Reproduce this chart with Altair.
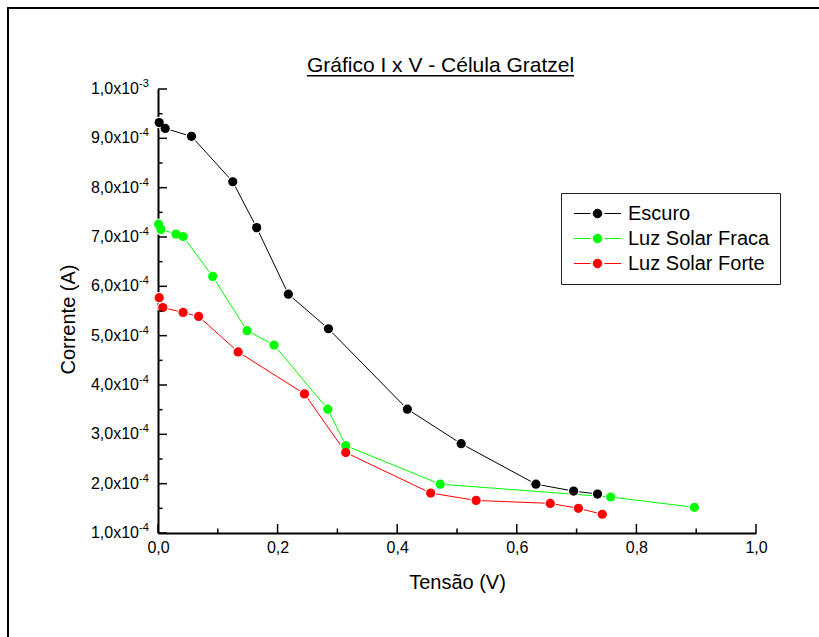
import altair as alt
import pandas as pd

FONT = "Arial, 'Liberation Sans', sans-serif"

series_names = ["Escuro", "Luz Solar Fraca", "Luz Solar Forte"]
series_colors = ["#000000", "#00ff00", "#ff0000"]

v_escuro = [0.002, 0.012, 0.056, 0.125, 0.165, 0.218, 0.285, 0.417, 0.507, 0.632, 0.695, 0.735]
i_escuro = [9.32e-4, 9.20e-4, 9.04e-4, 8.12e-4, 7.19e-4, 5.84e-4, 5.14e-4, 3.51e-4, 2.81e-4, 1.99e-4, 1.85e-4, 1.79e-4]

v_fraca = [0.001, 0.005, 0.030, 0.042, 0.0915, 0.149, 0.194, 0.284, 0.314, 0.472, 0.757, 0.897]
i_fraca = [7.26e-4, 7.15e-4, 7.06e-4, 7.01e-4, 6.20e-4, 5.10e-4, 4.81e-4, 3.51e-4, 2.77e-4, 1.99e-4, 1.73e-4, 1.52e-4]

v_forte = [0.002, 0.008, 0.042, 0.068, 0.134, 0.245, 0.314, 0.456, 0.532, 0.656, 0.703, 0.743]
i_forte = [5.77e-4, 5.57e-4, 5.47e-4, 5.39e-4, 4.67e-4, 3.82e-4, 2.63e-4, 1.81e-4, 1.66e-4, 1.60e-4, 1.50e-4, 1.38e-4]

x_major = [0.0, 0.2, 0.4, 0.6, 0.8, 1.0]
x_minor = [0.1, 0.3, 0.5, 0.7, 0.9]
y_major = [1e-4, 2e-4, 3e-4, 4e-4, 5e-4, 6e-4, 7e-4, 8e-4, 9e-4, 1e-3]
y_minor = [1.5e-4, 2.5e-4, 3.5e-4, 4.5e-4, 5.5e-4, 6.5e-4, 7.5e-4, 8.5e-4, 9.5e-4]
y_mantissa = ["1,0x10", "2,0x10", "3,0x10", "4,0x10", "5,0x10", "6,0x10", "7,0x10", "8,0x10", "9,0x10", "1,0x10"]
y_exponent = ["-4", "-4", "-4", "-4", "-4", "-4", "-4", "-4", "-4", "-3"]

title_text = "Gráfico I x V - Célula Gratzel"

rows = []
for name, vs, cs in [(series_names[0], v_escuro, i_escuro),
                     (series_names[1], v_fraca, i_fraca),
                     (series_names[2], v_forte, i_forte)]:
    for k, (v, c) in enumerate(zip(vs, cs)):
        rows.append({"serie": name, "V": v, "I": c, "idx": k})
df = pd.DataFrame(rows)

W, H = 598, 444
xscale = alt.Scale(domain=[0, 1], nice=False, zero=False)
yscale = alt.Scale(domain=[1e-4, 1e-3], nice=False, zero=False)

legend_path = "M-2.35,0L-0.7,0M0.7,0L2.35,0M-0.43,0A0.43,0.43,0,1,1,0.43,0A0.43,0.43,0,1,1,-0.43,0Z"

legend = alt.Legend(
    title=None, orient="none", legendX=403, legendY=104,
    strokeColor="#222222", padding=10,
    symbolType=legend_path, symbolSize=400, symbolStrokeWidth=1,
    symbolOffset=16, labelOffset=20, symbolOpacity=1,
    labelFont=FONT, labelFontSize=20, labelColor="black",
    rowPadding=4,
)
cscale = alt.Scale(domain=series_names, range=series_colors)

x_enc = alt.X(
    "V:Q", scale=xscale,
    axis=alt.Axis(
        values=x_major, labelExpr="replace(format(datum.value, '.1f'), '.', ',')",
        ticks=False, grid=False, domainColor="black", domainWidth=2,
        labelFont=FONT, labelFontSize=16, labelColor="black", labelPadding=6,
        labelFlush=False, labelOverlap=False,
        title="Tensão (V)", titleFont=FONT, titleFontSize=20, titleFontWeight="normal",
        titleColor="black", titleX=W / 2, titleY=49, titleBaseline="middle", titleAlign="center",
    ),
)
y_enc = alt.Y(
    "I:Q", scale=yscale,
    axis=alt.Axis(
        labels=False, ticks=False, grid=False, domainColor="black", domainWidth=2,
        title="Corrente (A)", titleFont=FONT, titleFontSize=20, titleFontWeight="normal",
        titleColor="black", titleX=-90, titleY=230, titleAngle=270,
        titleBaseline="middle", titleAlign="center",
    ),
)

base = alt.Chart(df)
lines = base.mark_line(strokeWidth=1).encode(
    x=x_enc, y=y_enc,
    stroke=alt.Stroke("serie:N", scale=cscale, sort=series_names, legend=legend),
    order="idx:Q")
halos = base.mark_point(filled=True, size=130, opacity=1, color="white").encode(
    x=alt.X("V:Q", scale=xscale), y=alt.Y("I:Q", scale=yscale))
points = base.mark_point(filled=True, size=85, opacity=1).encode(
    x=alt.X("V:Q", scale=xscale), y=alt.Y("I:Q", scale=yscale),
    fill=alt.Fill("serie:N", scale=cscale, sort=series_names, legend=legend))

# ticks drawn inward
xmaj = alt.Chart(pd.DataFrame({"v": x_major})).mark_rule(color="black", strokeWidth=1.5).encode(
    x=alt.X("v:Q", scale=xscale), y=alt.value(H), y2=alt.value(H - 9))
xmin = alt.Chart(pd.DataFrame({"v": x_minor})).mark_rule(color="black", strokeWidth=1.5).encode(
    x=alt.X("v:Q", scale=xscale), y=alt.value(H), y2=alt.value(H - 4.5))
ymaj = alt.Chart(pd.DataFrame({"v": y_major})).mark_rule(color="black", strokeWidth=1.5).encode(
    y=alt.Y("v:Q", scale=yscale), x=alt.value(0), x2=alt.value(9))
ymin = alt.Chart(pd.DataFrame({"v": y_minor})).mark_rule(color="black", strokeWidth=1.5).encode(
    y=alt.Y("v:Q", scale=yscale), x=alt.value(0), x2=alt.value(4.5))

ylab_df = pd.DataFrame({"v": y_major, "m": y_mantissa, "e": y_exponent})
ylab = alt.Chart(ylab_df).mark_text(align="right", baseline="middle", font=FONT, fontSize=16, color="black").encode(
    y=alt.Y("v:Q", scale=yscale), x=alt.value(-19), text="m:N")
yexp = alt.Chart(ylab_df).mark_text(align="left", baseline="middle", font=FONT, fontSize=11, color="black", dy=-5).encode(
    y=alt.Y("v:Q", scale=yscale), x=alt.value(-19), text="e:N")

one = pd.DataFrame({"t": [title_text]})
title = alt.Chart(one).mark_text(align="center", baseline="alphabetic", font=FONT, fontSize=21, color="black").encode(
    x=alt.value(282.5), y=alt.value(-17.5), text="t:N")
underline = alt.Chart(one).mark_rule(color="black", strokeWidth=1.5).encode(
    x=alt.value(149), x2=alt.value(416), y=alt.value(-13.3))
frame = alt.Chart(one).mark_rect(filled=False, stroke="black", strokeWidth=2).encode(
    x=alt.value(-150), x2=alt.value(720), y=alt.value(-81), y2=alt.value(620))

chart = alt.layer(
    frame, lines, halos, points, xmaj, xmin, ymaj, ymin, ylab, yexp, title, underline
).properties(
    width=W, height=H,
    autosize=alt.AutoSizeParams(type="none"),
    padding={"left": 158, "top": 89, "right": 819 - 158 - W, "bottom": 637 - 89 - H},
    background="white",
).configure_view(stroke=None)

chart.save("out.html", embed_options={"renderer": "svg", "actions": False})
